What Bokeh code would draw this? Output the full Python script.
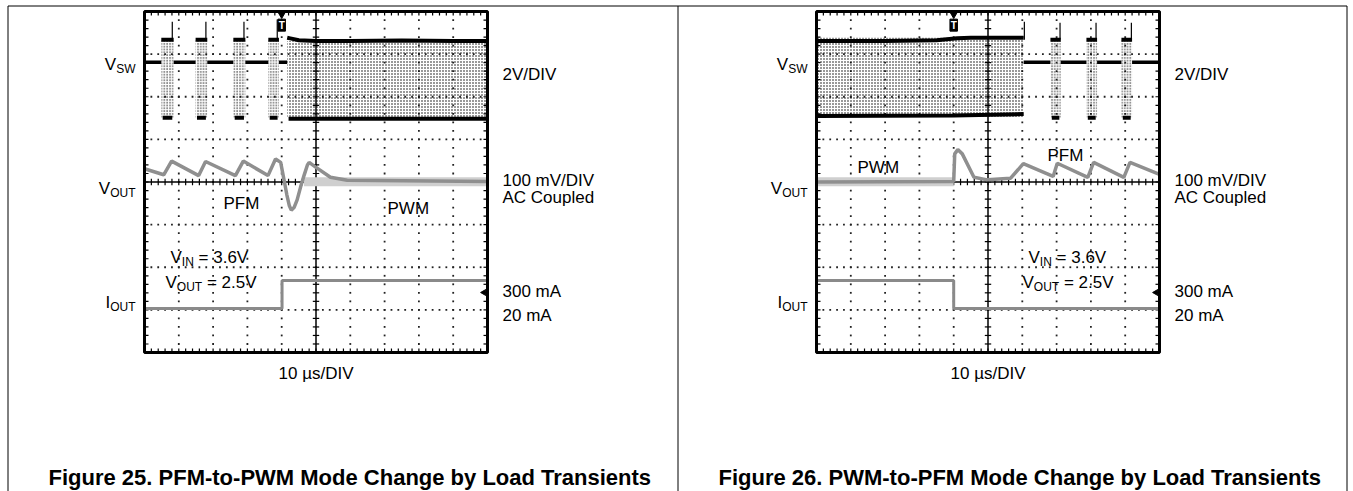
import numpy as np
from bokeh.plotting import figure
from bokeh.models import Range1d, Label
from bokeh.embed import file_html
from bokeh.resources import INLINE

# ------------------------------------------------------------------
# Data read from the two oscilloscope captures (time in µs, 10 µs/div)
# ------------------------------------------------------------------
# ---- Figure 25 : PFM -> PWM ----
f25_idle_start = [0.0, 8.5, 18.3, 29.4, 39.2]
f25_idle_end = [4.9, 14.9, 25.9, 36.1, 41.6]
f25_idle_v = [2.6, 2.6, 2.6, 2.6, 2.6]
f25_burst_start = [4.9, 14.9, 25.9, 36.1]
f25_burst_end = [8.5, 18.3, 29.4, 39.2]
f25_burst_high = [3.65, 3.65, 3.65, 3.65]
f25_burst_low = [0.0, 0.0, 0.0, 0.0]
f25_spike_t = [8.1, 17.9, 29.0, 38.7]
f25_spike_v = [4.5, 4.5, 4.5, 4.6]
f25_pwm_start = [41.6]
f25_pwm_end = [100.0]
f25_pwm_top_t = [41.6, 42.5, 45.0, 50.0, 60.0, 75.0, 90.0, 100.0]
f25_pwm_top_v = [3.75, 3.72, 3.63, 3.6, 3.6, 3.62, 3.6, 3.6]
f25_pwm_bot_t = [42.0, 100.0]
f25_pwm_bot_v = [-0.05, -0.05]

f25_vout_t = [0.0, 5.6, 7.9, 15.8, 17.8, 26.5, 28.8, 36.0, 38.2, 39.7, 40.8,
              41.5, 42.2, 42.8, 43.6, 44.5, 45.5, 46.5, 47.5, 48.0, 49.9,
              54.2, 59.1, 100.0]
f25_vout_mv = [31, 17, 49, 15, 48, 15, 49, 15, 54, 46, 0,
               -30, -55, -66, -60, -42, -12, 15, 40, 46, 35,
               11, 4, 1]
f25_noise_t = [46.5, 100.0]
f25_noise_lo = [-10, -10]
f25_noise_hi = [11, 11]

f25_iout_t = [0.0, 40.1, 40.1, 100.0]
f25_iout_ma = [20, 20, 300, 300]

# ---- Figure 26 : PWM -> PFM ----
f26_idle_start = [60.4, 71.2, 81.8, 92.0]
f26_idle_end = [68.2, 78.7, 88.9, 100.0]
f26_idle_v = [2.6, 2.6, 2.6, 2.6]
f26_burst_start = [68.2, 78.7, 88.9]
f26_burst_end = [71.2, 81.8, 92.0]
f26_burst_high = [3.65, 3.65, 3.65]
f26_burst_low = [0.0, 0.0, 0.0]
f26_spike_t = [60.6, 71.0, 81.5, 91.8]
f26_spike_v = [4.5, 4.45, 4.45, 4.45]
f26_pwm_start = [0.0]
f26_pwm_end = [60.4]
f26_pwm_top_t = [0.0, 20.0, 35.0, 41.0, 45.0, 60.4]
f26_pwm_top_v = [3.6, 3.6, 3.63, 3.72, 3.75, 3.75]
f26_pwm_bot_t = [0.0, 40.0, 60.4]
f26_pwm_bot_v = [0.08, 0.1, 0.17]

f26_vout_t = [0.0, 40.0, 40.3, 41.2, 42.5, 45.9, 49.8, 56.6, 60.3, 69.0,
              70.2, 79.1, 80.8, 89.6, 91.4, 100.0]
f26_vout_mv = [0, 1, 66, 76, 66, 11, 5, 9, 43, 13, 44, 11, 46, 11, 46, 18]
f26_noise_t = [0.0, 40.0]
f26_noise_lo = [-10, -10]
f26_noise_hi = [11, 11]

f26_iout_t = [0.0, 40.0, 40.0, 100.0]
f26_iout_ma = [300, 300, 20, 20]

TRIGGER_T = [40.0]
TRIG_MARK_MA = [180]

# channel settings
T_PER_DIV = 10.0          # µs/div
VSW_PER_DIV = 2.0         # V/div
VOUT_PER_DIV = 100.0      # mV/div
IOUT_PER_DIV = 426.0      # mA/div
VSW_ZERO_DIV = 1.51       # channel offsets (div from centre)
IOUT_ZERO_DIV = -3.015

# ------------------------------------------------------------------
# Page geometry (pixels)
# ------------------------------------------------------------------
PX0, PX1, PY0, PY1 = 0, 1353, 0, 491
SCR_LEFT = {"t25": 144.0, "t26": 816.0}
SCR_W = 343.0
SCR_TOP, SCR_BOT = 11.0, 352.0
NX, NY = 10, 8
ppu = SCR_W / (NX * T_PER_DIV)
yc = (SCR_TOP + SCR_BOT) / 2
ppd = (SCR_BOT - SCR_TOP) / NY

p = figure(width=PX1 - PX0, height=PY1 - PY0,
           x_range=Range1d(PX0, PX1), y_range=Range1d(PY1, PY0),
           output_backend="svg", toolbar_location=None, min_border=0,
           x_axis_type=None, y_axis_type=None)
p.outline_line_color = None
p.background_fill_color = "white"
p.border_fill_color = "white"

p.extra_x_ranges = {k: Range1d((PX0 - L) / ppu, (PX1 - L) / ppu) for k, L in SCR_LEFT.items()}
d_lo, d_hi = (yc - PY1) / ppd, (yc - PY0) / ppd
p.extra_y_ranges = {
    "div": Range1d(d_lo, d_hi),
    "vsw": Range1d((d_lo - VSW_ZERO_DIV) * VSW_PER_DIV, (d_hi - VSW_ZERO_DIV) * VSW_PER_DIV),
    "vout": Range1d(d_lo * VOUT_PER_DIV, d_hi * VOUT_PER_DIV),
    "iout": Range1d((d_lo - IOUT_ZERO_DIV) * IOUT_PER_DIV, (d_hi - IOUT_ZERO_DIV) * IOUT_PER_DIV),
}

# page frame lines
p.segment(x0=[7.5, 7.5, 677.5, 1346.5], y0=[5.5, 5.5, 5.5, 5.5],
          x1=[1346.5, 7.5, 677.5, 1346.5], y1=[5.5, 491, 491, 491],
          line_color="black", line_width=1)

# ------------------------------------------------------------------
FONT = "Liberation Sans"
AW = {'V': 667, 'S': 667, 'W': 944, 'O': 778, 'U': 722, 'T': 611, 'I': 278,
      'N': 722, ' ': 278, '=': 584, '.': 278}


def tw(s, size):
    return sum(AW.get(c, 556) for c in s) * size / 1000.0


def put(x, y, text, size=17, align="left", font=FONT, style="normal", color="black", **kw):
    p.add_layout(Label(x=x, y=y, text=text, text_font=font, text_font_size=f"{size}px",
                       text_align=align, text_baseline="alphabetic",
                       text_font_style=style, text_color=color, **kw))


def sub_label(x, y, main, sub, rest="", align="left", size=17, sub_size=12, drop=4):
    w_main, w_sub = tw(main, size), tw(sub, sub_size)
    lead = len(rest) - len(rest.lstrip(" "))
    r = rest.lstrip(" ")
    total = w_main + w_sub + tw(" " * lead, size) + tw(r, size)
    x0 = x - total if align == "right" else x
    put(x0, y, main, size)
    put(x0 + w_main, y + drop, sub, sub_size)
    if r:
        put(x0 + w_main + w_sub + tw(" " * lead, size), y, r, size)


minor_t = np.arange(0, 100.001, T_PER_DIV / 5)
minor_d = np.arange(-4, 4.001, 0.2)


def draw_grid(tr):
    kw = dict(x_range_name=tr, y_range_name="div")
    gx, gy = [], []
    for d in [-3, -2, -1, 1, 2, 3]:
        gx += list(minor_t)
        gy += [d] * len(minor_t)
    for t in [10, 20, 30, 40, 60, 70, 80, 90]:
        gx += [t] * len(minor_d)
        gy += list(minor_d)
    p.scatter(gx, gy, marker="square", size=1.8, color="#222222", line_width=0, **kw)
    # centre axes
    p.segment(x0=[0, 50], y0=[0, -4], x1=[100, 50], y1=[0, 4], line_color="black", line_width=1.5, **kw)
    tk = 3.2 / ppd
    p.segment(x0=minor_t, y0=-tk, x1=minor_t, y1=tk, line_color="black", line_width=1.2, **kw)
    tx = 3.2 / ppu
    p.segment(x0=50 - tx, y0=minor_d, x1=50 + tx, y1=minor_d, line_color="black", line_width=1.2, **kw)
    # border ticks
    bt = 4.0 / ppd
    bx = 4.0 / ppu
    p.segment(x0=minor_t, y0=4, x1=minor_t, y1=4 - bt, line_color="black", line_width=1.2, **kw)
    p.segment(x0=minor_t, y0=-4, x1=minor_t, y1=-4 + bt, line_color="black", line_width=1.2, **kw)
    p.segment(x0=0, y0=minor_d, x1=bx, y1=minor_d, line_color="black", line_width=1.2, **kw)
    p.segment(x0=100, y0=minor_d, x1=100 - bx, y1=minor_d, line_color="black", line_width=1.2, **kw)


def draw_border_and_trigger(tr):
    kw = dict(x_range_name=tr, y_range_name="div")
    p.quad(left=[0], right=[100], bottom=[-4], top=[4], fill_alpha=0,
           line_color="black", line_width=3, **kw)
    p.scatter(TRIGGER_T, [3.93], marker="inverted_triangle", size=7, color="black", **kw)
    p.rect(x=TRIGGER_T, y=[3.68], width=7.5 / ppu, height=12 / ppd, color="black", **kw)
    p.add_layout(Label(x=TRIGGER_T[0], y=3.66, text="T", text_color="white", text_font=FONT,
                       text_font_size="10px", text_font_style="bold", text_align="center",
                       text_baseline="middle", x_range_name=tr, y_range_name="div"))
    p.scatter([99.0], TRIG_MARK_MA, marker="triangle", angle=np.pi / 2, size=6,
              color="black", x_range_name=tr, y_range_name="iout")
    p.segment(x0=[98.6], y0=TRIG_MARK_MA, x1=[100], y1=TRIG_MARK_MA, line_color="black",
              line_width=1.5, x_range_name=tr, y_range_name="iout")


def draw_vsw(tr, idle_s, idle_e, idle_v, b_s, b_e, b_hi, b_lo, sp_t, sp_v,
             pwm_s, pwm_e, top_t, top_v, bot_t, bot_v):
    kw = dict(x_range_name=tr, y_range_name="vsw")
    # switching "dust"
    p.quad(left=pwm_s, right=pwm_e, bottom=[0.0], top=[top_v[-1]], fill_color="white", fill_alpha=0,
           line_alpha=0, hatch_pattern=".", hatch_color="black", hatch_scale=3.0,
           hatch_weight=1.3, **kw)
    p.quad(left=b_s, right=b_e, bottom=b_lo, top=b_hi, fill_alpha=0, line_alpha=0,
           hatch_pattern=".", hatch_color="black", hatch_scale=2.8, hatch_weight=1.3, **kw)
    # spikes
    p.segment(x0=sp_t, y0=b_hi[:1] * len(sp_t), x1=sp_t, y1=sp_v, line_color="black", line_width=1.2, **kw)
    # idle level
    p.segment(x0=idle_s, y0=idle_v, x1=idle_e, y1=idle_v, line_color="black", line_width=3.5, **kw)
    # burst edges
    p.segment(x0=b_s, y0=b_hi, x1=b_e, y1=b_hi, line_color="black", line_width=4, **kw)
    p.segment(x0=[s + 0.4 for s in b_s], y0=b_lo, x1=[e - 0.4 for e in b_e], y1=b_lo,
              line_color="black", line_width=4, **kw)
    # PWM edges
    p.line(top_t, top_v, line_color="black", line_width=4, **kw)
    p.line(bot_t, bot_v, line_color="black", line_width=4, **kw)


def draw_vout(tr, t, mv, nt, nlo, nhi):
    kw = dict(x_range_name=tr, y_range_name="vout")
    p.varea(x=nt, y1=nlo, y2=nhi, fill_color="#cfcfcf", **kw)
    p.line(t, mv, line_color="#8f8f8f", line_width=3.5, **kw)


def draw_iout(tr, t, ma):
    p.line(t, ma, line_color="#8a8a8a", line_width=3, x_range_name=tr, y_range_name="iout")


# ---- Figure 25 screen ----
draw_grid("t25")
draw_vsw("t25", f25_idle_start, f25_idle_end, f25_idle_v, f25_burst_start, f25_burst_end,
         f25_burst_high, f25_burst_low, f25_spike_t, f25_spike_v, f25_pwm_start, f25_pwm_end,
         f25_pwm_top_t, f25_pwm_top_v, f25_pwm_bot_t, f25_pwm_bot_v)
draw_vout("t25", f25_vout_t, f25_vout_mv, f25_noise_t, f25_noise_lo, f25_noise_hi)
draw_iout("t25", f25_iout_t, f25_iout_ma)
draw_border_and_trigger("t25")

# ---- Figure 26 screen ----
draw_grid("t26")
draw_vsw("t26", f26_idle_start, f26_idle_end, f26_idle_v, f26_burst_start, f26_burst_end,
         f26_burst_high, f26_burst_low, f26_spike_t, f26_spike_v, f26_pwm_start, f26_pwm_end,
         f26_pwm_top_t, f26_pwm_top_v, f26_pwm_bot_t, f26_pwm_bot_v)
draw_vout("t26", f26_vout_t, f26_vout_mv, f26_noise_t, f26_noise_lo, f26_noise_hi)
draw_iout("t26", f26_iout_t, f26_iout_ma)
draw_border_and_trigger("t26")

# ------------------------------------------------------------------
# Texts
# ------------------------------------------------------------------
for off, cap, (lab1, lab2), (x1, y1b), (x2, y2b), vin_x, vout_x, tcx, cap_x in [
        (0, "Figure 25. PFM-to-PWM Mode Change by Load Transients", ("PFM", "PWM"),
         (223, 203), (387, 208), 170, 165, 315.5, 48),
        (672, "Figure 26. PWM-to-PFM Mode Change by Load Transients", ("PWM", "PFM"),
         (857, 167), (1047, 155), 1028, 1022, 987.5, 718)]:
    sub_label(135 + off, 64, "V", "SW", align="right")
    sub_label(135 + off, 188, "V", "OUT", align="right")
    sub_label(135 + off, 302, "I", "OUT", align="right")
    put(502 + off, 74, "2V/DIV")
    put(502 + off, 180, "100 mV/DIV")
    put(502 + off, 197, "AC Coupled")
    put(502 + off, 291, "300 mA")
    put(502 + off, 315, "20 mA")
    put(x1, y1b, lab1)
    put(x2, y2b, lab2)
    sub_label(vin_x, 257, "V", "IN", " = 3.6V")
    sub_label(vout_x, 282, "V", "OUT", " = 2.5V")
    put(tcx, 373, "10 \u00b5s/DIV", align="center")
    put(cap_x, 477, cap, size=22, align="left", font="Liberation Sans", style="bold")

open("out.html", "w").write(file_html(p, INLINE))
